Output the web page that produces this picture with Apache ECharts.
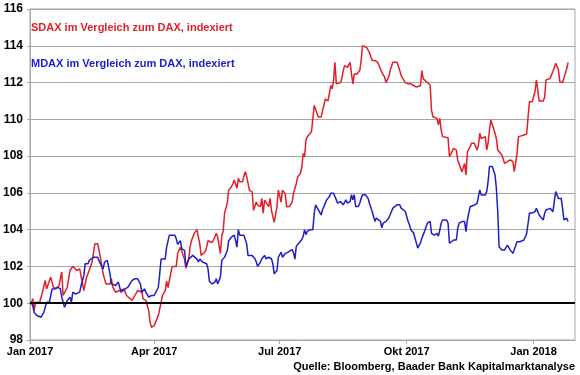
<!DOCTYPE html>
<html>
<head>
<meta charset="utf-8">
<script src="https://cdn.jsdelivr.net/npm/echarts@6/dist/echarts.min.js"></script>
<style>html,body{margin:0;padding:0;background:#fff}#c{width:580px;height:375px}</style>
</head>
<body>
<div id="c"></div>
<script>
// ---- Data ----
const sdaxName = 'SDAX im Vergleich zum DAX, indexiert';
const mdaxName = 'MDAX im Vergleich zum DAX, indexiert';
const sourceText = 'Quelle: Bloomberg, Baader Bank Kapitalmarktanalyse';

const xMin = '2017-01-01';
const xMax = '2018-01-31';
const xTickDates = ['2017-01-01','2017-04-01','2017-07-01','2017-10-01','2018-01-01'];
const xTickLabels = ['Jan 2017','Apr 2017','Jul 2017','Okt 2017','Jan 2018'];
const yMin = 98, yMax = 116, yStep = 2;
const baseLine = 100;

const sdaxDates = ['2017-01-02','2017-01-03','2017-01-04','2017-01-05','2017-01-08','2017-01-10','2017-01-12','2017-01-13','2017-01-16','2017-01-17','2017-01-18','2017-01-20','2017-01-22','2017-01-24','2017-01-25','2017-01-28','2017-01-30',
'2017-02-01','2017-02-04','2017-02-06','2017-02-09','2017-02-11','2017-02-12','2017-02-15','2017-02-17','2017-02-19','2017-02-21','2017-02-23','2017-02-24','2017-02-25','2017-02-28',
'2017-03-01','2017-03-02','2017-03-04','2017-03-07','2017-03-10','2017-03-12','2017-03-16','2017-03-18','2017-03-20','2017-03-23','2017-03-24','2017-03-26','2017-03-28','2017-03-29','2017-03-30',
'2017-04-01','2017-04-04','2017-04-06','2017-04-07','2017-04-09','2017-04-10','2017-04-11','2017-04-14','2017-04-17','2017-04-18','2017-04-20','2017-04-21','2017-04-22','2017-04-23','2017-04-24','2017-04-26','2017-04-27','2017-04-28','2017-04-29','2017-04-30',
'2017-05-02','2017-05-03','2017-05-04','2017-05-05','2017-05-06','2017-05-08','2017-05-09','2017-05-10','2017-05-11','2017-05-13','2017-05-14','2017-05-15','2017-05-16','2017-05-17','2017-05-19','2017-05-20','2017-05-21','2017-05-22','2017-05-24','2017-05-25','2017-05-26','2017-05-27','2017-05-28','2017-05-29','2017-05-31',
'2017-06-01','2017-06-02','2017-06-03','2017-06-04','2017-06-05','2017-06-06','2017-06-07','2017-06-09','2017-06-11','2017-06-12','2017-06-13','2017-06-14','2017-06-15','2017-06-17','2017-06-18','2017-06-19','2017-06-20','2017-06-21','2017-06-23','2017-06-24','2017-06-25','2017-06-26','2017-06-27','2017-06-29','2017-06-30',
'2017-07-01','2017-07-02','2017-07-03','2017-07-05','2017-07-06','2017-07-07','2017-07-08','2017-07-10','2017-07-11','2017-07-12','2017-07-13','2017-07-14','2017-07-16','2017-07-17','2017-07-18','2017-07-19','2017-07-20','2017-07-21','2017-07-24','2017-07-25','2017-07-26','2017-07-28','2017-07-29','2017-07-30','2017-07-31',
'2017-08-01','2017-08-03','2017-08-04','2017-08-05','2017-08-06','2017-08-07','2017-08-08','2017-08-09','2017-08-10','2017-08-11','2017-08-14','2017-08-15','2017-08-16','2017-08-17','2017-08-18','2017-08-19','2017-08-21','2017-08-22','2017-08-23','2017-08-24','2017-08-26','2017-08-27','2017-08-28','2017-08-29','2017-08-30',
'2017-09-02','2017-09-03','2017-09-04','2017-09-06','2017-09-07','2017-09-08','2017-09-09','2017-09-10','2017-09-12','2017-09-13','2017-09-14','2017-09-15','2017-09-16','2017-09-18','2017-09-19','2017-09-20','2017-09-21','2017-09-22','2017-09-24','2017-09-25','2017-09-26','2017-09-27','2017-09-28','2017-09-30',
'2017-10-01','2017-10-02','2017-10-03','2017-10-04','2017-10-06','2017-10-07','2017-10-08','2017-10-09','2017-10-11','2017-10-12','2017-10-13','2017-10-14','2017-10-16','2017-10-18','2017-10-19','2017-10-20','2017-10-23','2017-10-24','2017-10-25','2017-10-26','2017-10-27','2017-10-31',
'2017-11-01','2017-11-02','2017-11-04','2017-11-06','2017-11-07','2017-11-10','2017-11-12','2017-11-13','2017-11-14','2017-11-16','2017-11-17','2017-11-19','2017-11-21','2017-11-22','2017-11-23','2017-11-24','2017-11-27','2017-11-28','2017-11-29','2017-11-30',
'2017-12-01','2017-12-02','2017-12-04','2017-12-05','2017-12-06','2017-12-09','2017-12-10','2017-12-11','2017-12-12','2017-12-13','2017-12-15','2017-12-16','2017-12-17','2017-12-18','2017-12-20','2017-12-21','2017-12-23','2017-12-25','2017-12-27','2017-12-28','2017-12-29','2017-12-31',
'2018-01-02','2018-01-03','2018-01-04','2018-01-05','2018-01-08','2018-01-09','2018-01-10','2018-01-13','2018-01-14','2018-01-15','2018-01-17','2018-01-19','2018-01-20','2018-01-22','2018-01-23','2018-01-25','2018-01-26'];
const sdaxValues = [100.0,100.25,99.6,100.05,100.05,100.6,101.24,100.78,101.42,101.42,100.87,100.78,100.96,101.7,100.42,100.87,101.78,
102.0,101.78,101.87,100.69,101.42,101.6,102.24,103.24,103.24,102.5,101.6,101.5,101.05,101.05,
101.33,100.87,100.6,100.69,100.78,100.42,100.15,100.42,100.69,100.6,100.24,100.15,99.6,98.96,98.69,
98.78,99.33,100.05,100.42,100.7,101.2,100.85,102.0,102.0,102.7,103.05,102.95,102.6,102.4,101.9,102.4,103.05,103.4,103.5,103.8,
104.0,103.6,103.25,102.6,102.5,102.8,103.05,103.4,103.5,103.3,103.4,103.6,103.8,103.6,102.7,103.7,103.9,104.9,105.45,106.15,106.25,106.33,106.5,106.7,106.25,
106.8,106.6,106.5,106.6,106.9,107.15,106.9,106.15,106.05,105.05,104.96,105.5,105.33,105.25,105.7,104.9,105.6,105.7,105.25,105.7,105.05,104.96,104.4,105.25,106.15,
106.05,105.5,106.15,105.96,105.25,105.25,105.26,105.5,106.0,105.9,106.5,106.87,107.06,107.42,108.14,107.96,108.87,109.05,109.32,109.23,110.76,110.31,110.13,110.22,110.13,
110.04,111.1,111.2,111.0,110.94,111.84,111.66,112.1,113.1,111.93,112.0,112.2,112.65,112.92,112.83,112.83,113.1,112.47,111.93,112.47,112.47,112.56,112.65,113.2,114.0,
113.9,113.82,113.64,113.2,113.1,113.2,113.2,113.1,112.74,112.56,112.65,112.3,112.0,112.3,112.65,112.74,113.1,113.2,113.1,113.1,112.65,112.38,112.47,112.0,
112.0,111.93,112.0,111.93,111.84,111.93,111.75,111.66,111.84,112.65,112.2,112.1,112.0,111.87,110.5,110.14,110.05,109.7,110.05,109.42,109.06,109.0,
107.97,107.97,108.42,108.33,107.79,107.15,107.6,106.97,108.24,108.5,108.7,108.7,108.33,108.6,109.24,108.96,109.06,108.33,108.7,109.42,
109.97,109.97,109.24,108.96,108.33,108.06,107.97,107.6,107.5,107.7,107.8,107.8,107.7,107.15,108.15,109.06,109.1,109.15,109.2,110.14,110.96,110.96,
111.5,112.14,111.6,111.0,111.0,111.2,112.14,112.23,112.33,112.6,113.05,112.7,112.05,112.0,111.96,112.75,113.1];

const mdaxDates = ['2017-01-02','2017-01-03','2017-01-04','2017-01-05','2017-01-06','2017-01-07','2017-01-09','2017-01-10','2017-01-11','2017-01-13','2017-01-14','2017-01-15','2017-01-17','2017-01-19','2017-01-21','2017-01-23','2017-01-24','2017-01-25','2017-01-26','2017-01-28','2017-01-29','2017-01-30','2017-01-31',
'2017-02-01','2017-02-03','2017-02-04','2017-02-06','2017-02-07','2017-02-09','2017-02-10','2017-02-12','2017-02-13','2017-02-16','2017-02-19','2017-02-21','2017-02-23','2017-02-24','2017-02-26','2017-02-27','2017-02-28',
'2017-03-01','2017-03-04','2017-03-05','2017-03-06','2017-03-07','2017-03-08','2017-03-11','2017-03-13','2017-03-16','2017-03-18','2017-03-20','2017-03-22','2017-03-23','2017-03-24','2017-03-25','2017-03-26','2017-03-28','2017-03-30',
'2017-04-01','2017-04-04','2017-04-05','2017-04-06','2017-04-09','2017-04-10','2017-04-12','2017-04-16','2017-04-17','2017-04-18','2017-04-20','2017-04-21','2017-04-22','2017-04-23','2017-04-24','2017-04-26','2017-04-27','2017-04-29','2017-04-30',
'2017-05-02','2017-05-03','2017-05-04','2017-05-05','2017-05-06','2017-05-09','2017-05-10','2017-05-11','2017-05-13','2017-05-15','2017-05-16','2017-05-17','2017-05-19','2017-05-20','2017-05-21','2017-05-22','2017-05-24','2017-05-25','2017-05-26','2017-05-27','2017-05-29','2017-05-30','2017-05-31',
'2017-06-01','2017-06-02','2017-06-03','2017-06-05','2017-06-07','2017-06-08','2017-06-09','2017-06-11','2017-06-12','2017-06-13','2017-06-14','2017-06-15','2017-06-17','2017-06-18','2017-06-19','2017-06-20','2017-06-21','2017-06-23','2017-06-24','2017-06-25','2017-06-26','2017-06-27','2017-06-29','2017-06-30',
'2017-07-01','2017-07-02','2017-07-03','2017-07-05','2017-07-06','2017-07-07','2017-07-08','2017-07-10','2017-07-11','2017-07-12','2017-07-13','2017-07-14','2017-07-17','2017-07-18','2017-07-19','2017-07-20','2017-07-21','2017-07-23','2017-07-25','2017-07-26','2017-07-27','2017-07-29','2017-07-30','2017-07-31',
'2017-08-01','2017-08-03','2017-08-04','2017-08-05','2017-08-06','2017-08-07','2017-08-09','2017-08-10','2017-08-11','2017-08-12','2017-08-14','2017-08-15','2017-08-16','2017-08-17','2017-08-18','2017-08-19','2017-08-21','2017-08-22','2017-08-23','2017-08-24','2017-08-25','2017-08-26','2017-08-27','2017-08-28','2017-08-29','2017-08-30',
'2017-09-01','2017-09-02','2017-09-03','2017-09-04','2017-09-06','2017-09-07','2017-09-08','2017-09-09','2017-09-10','2017-09-12','2017-09-13','2017-09-14','2017-09-15','2017-09-16','2017-09-18','2017-09-19','2017-09-20','2017-09-21','2017-09-22','2017-09-24','2017-09-25','2017-09-26','2017-09-27','2017-09-28','2017-09-30',
'2017-10-01','2017-10-02','2017-10-03','2017-10-04','2017-10-06','2017-10-07','2017-10-08','2017-10-09','2017-10-11','2017-10-12','2017-10-13','2017-10-14','2017-10-15','2017-10-16','2017-10-18','2017-10-19','2017-10-21','2017-10-23','2017-10-24','2017-10-25','2017-10-26','2017-10-27','2017-10-30','2017-10-31',
'2017-11-01','2017-11-02','2017-11-04','2017-11-06','2017-11-07','2017-11-08','2017-11-10','2017-11-11','2017-11-12','2017-11-13','2017-11-14','2017-11-16','2017-11-17','2017-11-19','2017-11-21','2017-11-22','2017-11-23','2017-11-24','2017-11-25','2017-11-27','2017-11-28','2017-11-29','2017-11-30',
'2017-12-02','2017-12-04','2017-12-05','2017-12-06','2017-12-07','2017-12-09','2017-12-11','2017-12-12','2017-12-13','2017-12-15','2017-12-16','2017-12-17','2017-12-18','2017-12-20','2017-12-21','2017-12-22','2017-12-23','2017-12-25','2017-12-27','2017-12-28','2017-12-29','2017-12-31',
'2018-01-02','2018-01-03','2018-01-04','2018-01-05','2018-01-08','2018-01-09','2018-01-10','2018-01-13','2018-01-14','2018-01-15','2018-01-16','2018-01-17','2018-01-19','2018-01-21','2018-01-22','2018-01-23','2018-01-25','2018-01-26'];
const mdaxValues = [100.0,99.87,99.5,99.4,99.33,99.24,99.24,99.15,99.5,100.05,100.15,100.05,100.78,100.78,100.87,100.78,100.33,100.05,99.78,100.15,100.15,100.33,100.05,
100.6,100.5,100.6,100.6,100.96,101.5,102.15,102.15,102.33,102.5,102.5,102.15,101.87,102.24,102.33,102.24,101.6,
101.05,100.96,100.87,101.15,100.87,100.6,100.78,100.87,101.24,101.33,101.33,101.05,100.6,100.69,100.78,100.6,100.33,100.42,
100.42,100.87,101.6,102.4,102.4,103.05,103.7,103.7,103.5,103.2,103.4,102.96,103.05,102.87,102.0,102.4,102.5,102.6,102.5,
102.4,102.24,102.4,102.4,102.24,102.15,101.87,101.2,101.05,101.15,101.33,101.05,101.42,102.33,102.42,102.5,102.87,103.4,103.5,103.6,103.7,103.4,103.05,
104.0,103.7,103.7,103.7,103.24,102.6,102.5,102.6,102.5,102.42,102.24,102.0,102.24,102.42,102.5,102.6,102.42,102.5,102.42,102.42,102.15,101.6,101.78,102.5,
102.6,102.78,102.5,102.7,102.6,102.78,102.83,102.92,102.74,102.4,103.1,103.2,103.46,103.64,104.0,103.73,103.91,104.0,104.0,104.9,105.35,105.08,104.99,104.8,
105.08,105.44,105.62,105.71,105.8,105.98,105.98,105.98,105.62,105.44,105.53,105.44,105.35,105.44,105.62,105.44,105.53,105.9,105.62,105.9,105.26,105.17,105.26,105.44,105.71,105.9,
105.9,105.8,105.71,105.44,104.99,104.72,104.45,104.63,104.54,104.45,104.1,104.36,104.45,104.45,104.63,104.81,104.99,105.17,105.26,105.35,105.44,105.35,105.17,105.08,104.99,
104.72,104.45,104.27,104.0,103.82,103.55,103.28,103.0,103.28,103.55,103.73,103.91,104.0,104.36,104.45,103.8,103.7,103.8,103.65,103.98,104.35,104.53,104.53,104.35,
103.26,103.26,103.44,103.44,104.07,104.35,104.44,104.35,104.44,103.89,104.53,105.25,105.34,105.34,105.43,105.8,106.16,105.89,105.8,105.89,106.07,106.6,107.43,
107.43,107.0,106.25,104.98,103.07,102.9,102.9,102.98,103.16,102.9,102.8,102.71,102.71,103.34,103.44,103.34,103.44,103.44,103.8,104.35,104.9,104.9,
104.98,105.16,104.98,104.8,104.53,104.89,105.07,105.16,105.07,104.98,105.52,106.07,105.7,105.7,105.16,104.53,104.62,104.44];

// ---- Styles ----
const RED = '#e41e26';
const BLUE = '#1e1ec8';
const GRID = '#a6a6a6';
const FONT = '"Liberation Sans", Arial, sans-serif';

function toTs(s) {
  const p = s.split('-').map(Number);
  return new Date(p[0], p[1] - 1, p[2]).getTime();
}
function pairs(ds, vs) { return ds.map((d, i) => [toTs(d), vs[i]]); }
const tickTs = xTickDates.map(toTs);

const chart = echarts.init(document.getElementById('c'), null, { renderer: 'canvas', width: 580, height: 375 });
chart.setOption({
  animation: false,
  backgroundColor: '#ffffff',
  grid: { left: 30, right: 5, top: 9, bottom: 35, show: true, borderColor: GRID, borderWidth: 1, backgroundColor: 'transparent' },
  xAxis: {
    type: 'value',
    min: toTs(xMin),
    max: toTs(xMax),
    axisLine: { show: true, lineStyle: { color: GRID, width: 1 } },
    axisTick: { show: true, length: 4, lineStyle: { color: GRID }, customValues: tickTs },
    axisLabel: {
      customValues: tickTs,
      margin: 6,
      color: '#000',
      fontSize: 11,
      fontWeight: 'bold',
      fontFamily: FONT,
      formatter: function (v) {
        const i = tickTs.indexOf(v);
        return i >= 0 ? xTickLabels[i] : '';
      }
    },
    splitLine: { show: false }
  },
  yAxis: {
    type: 'value',
    min: yMin,
    max: yMax,
    interval: yStep,
    axisLine: { show: true, lineStyle: { color: GRID, width: 1 } },
    axisTick: { show: true, length: 3, lineStyle: { color: GRID } },
    axisLabel: { margin: 7, color: '#000', fontSize: 12, fontWeight: 'bold', fontFamily: FONT },
    splitLine: { show: true, lineStyle: { color: GRID, width: 1 } }
  },
  series: [
    {
      name: mdaxName, type: 'line', data: pairs(mdaxDates, mdaxValues),
      showSymbol: false, symbol: 'none', lineStyle: { color: BLUE, width: 1.5 }, itemStyle: { color: BLUE }, z: 3
    },
    {
      name: sdaxName, type: 'line', data: pairs(sdaxDates, sdaxValues),
      showSymbol: false, symbol: 'none', lineStyle: { color: RED, width: 1.5 }, itemStyle: { color: RED }, z: 2,
      markLine: {
        silent: true, symbol: ['none', 'none'], label: { show: false },
        lineStyle: { color: '#000', width: 2, type: 'solid' },
        data: [{ yAxis: baseLine }]
      }
    }
  ],
  graphic: [
    { type: 'text', left: 31, top: 22, style: { text: sdaxName, fill: RED, font: 'bold 11px ' + FONT } },
    { type: 'text', left: 31, top: 58, style: { text: mdaxName, fill: BLUE, font: 'bold 11px ' + FONT } },
    { type: 'text', right: 5, top: 361, style: { text: sourceText, fill: '#000', font: 'bold 11px ' + FONT } }
  ]
});
</script>
</body>
</html>
